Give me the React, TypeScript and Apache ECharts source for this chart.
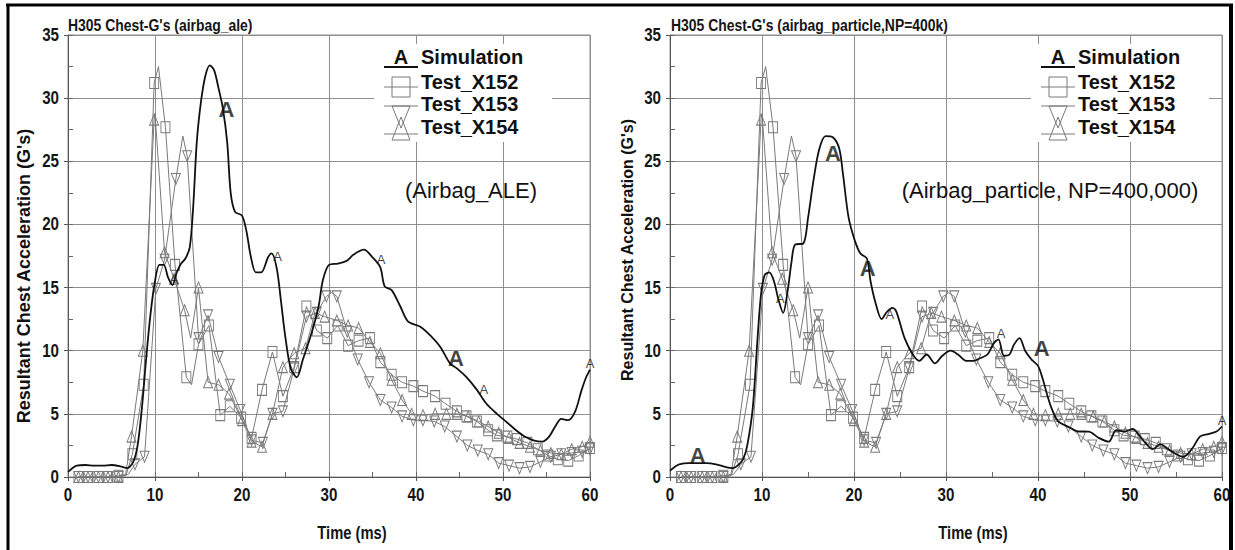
import React, { useEffect, useRef } from "react";
import * as echarts from "echarts";

// ---------------- data ----------------
const titleAle = "H305 Chest-G's (airbag_ale)";
const titleParticle = "H305 Chest-G's (airbag_particle,NP=400k)";
const noteAle = "(Airbag_ALE)";
const noteParticle = "(Airbag_particle, NP=400,000)";
const yName = "Resultant Chest Acceleration (G's)";
const xName = "Time (ms)";
const legendNames = ["Simulation", "Test_X152", "Test_X153", "Test_X154"];
const markText = "A";
const xTicks = [0, 10, 20, 30, 40, 50, 60];
const yTicks = [0, 5, 10, 15, 20, 25, 30, 35];

// Test_X152 (squares): marked samples, and unmarked samples at curve peaks
const x152Marks = [[1.2,0],[2.3,0],[3.5,0],[4.6,0],[5.8,0.1],[7.4,1.8],[8.7,7.3],[9.9,31.2],[11.2,27.7],[12.3,16.8],[13.6,7.9],[15.0,10.5],[16.2,12.0],[17.5,4.9],[18.6,5.6],[19.9,4.7],[21.1,3.1],[22.3,6.9],[23.5,9.9],[24.7,6.4],[26.0,8.7],[27.4,13.5],[28.6,11.6],[29.8,11.0],[31.0,12.0],[32.2,10.4],[33.4,10.8],[34.7,11.0],[35.9,9.1],[37.2,8.1],[38.4,7.5],[39.7,7.2],[40.8,6.8],[42.2,6.4],[43.4,5.8],[44.7,5.2],[45.8,4.8],[47.0,4.4],[48.3,3.7],[49.3,3.3],[50.5,3.2],[51.6,3.0],[52.8,2.7],[54.0,2.2],[55.2,1.7],[56.3,1.4],[57.5,1.3],[58.7,1.7],[60.0,2.3]];
const x152Peaks = [[6.7,0.2],[10.4,32.5],[14.2,7.3]];

// Test_X153 (down triangles)
const x153Marks = [[1.2,0],[2.3,0],[3.5,0],[4.6,0],[5.8,0],[7.7,1.0],[8.8,1.6],[10.1,14.9],[11.1,17.2],[12.4,23.6],[13.7,25.4],[15.0,11.0],[16.1,12.8],[17.3,9.5],[18.6,7.3],[19.8,5.3],[21.1,2.9],[22.4,2.7],[23.5,5.0],[24.7,5.2],[26.0,8.6],[27.4,12.7],[28.6,13.0],[29.7,14.3],[30.9,14.3],[32.1,11.5],[33.3,9.3],[34.6,7.5],[35.9,6.1],[37.2,5.5],[38.4,4.8],[39.7,4.5],[40.8,4.5],[42.1,4.4],[43.3,4.0],[44.7,3.2],[45.9,2.5],[47.1,2.1],[48.3,1.8],[49.5,1.1],[50.7,0.9],[51.9,0.7],[53.1,0.8],[54.3,1.2],[55.5,1.6],[56.7,1.8],[57.9,1.9],[59.1,2.0],[60.0,2.2]];
const x153Peaks = [[6.9,0.2],[13.2,27.0],[30.3,14.6]];

// Test_X154 (up triangles)
const x154Marks = [[1.2,0],[2.3,0],[3.5,0],[4.6,0],[5.8,0],[7.3,3.2],[8.6,10.0],[9.9,28.3],[11.1,17.8],[12.2,15.7],[13.4,13.2],[15.0,15.0],[16.1,7.5],[17.3,7.3],[18.5,6.6],[20.0,4.5],[21.1,2.8],[22.3,2.4],[23.5,5.0],[24.7,8.7],[26.0,9.8],[27.3,10.2],[28.4,13.0],[29.5,12.7],[30.9,12.4],[32.2,12.0],[33.4,11.8],[34.7,10.7],[35.9,9.8],[37.2,7.7],[38.4,6.1],[39.5,5.0],[40.8,4.9],[42.2,5.0],[43.5,5.0],[44.7,5.0],[46.0,4.8],[47.2,4.4],[48.3,4.0],[49.5,3.5],[50.7,3.1],[51.9,2.7],[53.1,2.4],[54.3,2.1],[55.5,1.9],[56.7,1.8],[57.9,2.2],[59.1,2.4],[60.0,2.8]];
const x154Peaks = [[6.6,0.1],[10.0,28.8],[14.1,11.0]];

// Simulation, airbag ALE
const simAle = [[0,0.4],[0.5,0.7],[1,0.9],[2,0.95],[3,0.9],[4,0.9],[5,0.95],[6,0.85],[6.8,0.7],[7.5,1.2],[8,2.5],[8.5,5.5],[9,9.5],[9.5,13],[10,15.5],[10.5,16.8],[11,16.8],[11.5,15.8],[12,15.2],[12.5,16.2],[13,16.9],[13.5,17.3],[14,18.2],[14.4,21.5],[14.8,26.5],[15.3,29.8],[15.8,31.8],[16.3,32.6],[16.8,32.2],[17.3,30.8],[17.8,29.2],[18.3,26.5],[18.7,22.5],[19.2,21],[20,20.7],[20.5,19.5],[21,17.5],[21.6,16.2],[22.2,16.2],[23,17.4],[23.4,17.7],[24,16.5],[24.5,13.8],[25,11],[25.6,8.6],[26.3,7.9],[27,9.3],[28,11.4],[28.8,13.5],[29.3,15.6],[30,16.8],[31,16.9],[32,17.1],[32.8,17.6],[34,18],[35,17.4],[35.9,16.6],[36.4,15.1],[37.2,14.8],[38.2,13.5],[39.1,12.3],[40.5,11.9],[41.8,11.1],[42.8,10.3],[43.9,9.0],[44.7,8.6],[45.8,7.9],[47,6.9],[48.1,5.8],[49.3,5.0],[50.5,4.3],[51.5,3.7],[52.5,3.2],[53.5,2.9],[54.5,2.8],[55.3,3.2],[56,4.0],[56.7,4.6],[57.5,4.5],[58.3,5.2],[59,6.8],[59.5,7.8],[60,8.5]];
const simAleBigA = [[18.2,29.1],[44.6,9.4]];
const simAleSmallA = [[12.2,15.6],[24.1,17.5],[36.0,17.2],[47.8,6.9],[60.0,9.0]];

// Simulation, airbag particle NP=400k
const simParticle = [[0,0.5],[0.5,0.8],[1,1.0],[2,1.1],[3,1.1],[4,1.1],[5,1.0],[6,0.8],[6.8,0.7],[7.5,1.0],[8,1.5],[8.4,2.5],[9,5.5],[9.5,10.8],[9.9,14.5],[10.3,16.0],[10.8,16.2],[11.3,15.5],[11.8,14.0],[12.3,13.0],[12.8,14.8],[13.2,17.0],[13.6,18.4],[14.5,18.5],[15,20.5],[15.6,23.5],[16.2,25.9],[16.9,27.0],[17.7,26.9],[18.4,26.0],[18.8,24.0],[19.4,20.6],[20.1,18.7],[20.7,17.7],[21.4,17.3],[21.8,15.5],[22.3,13.9],[23,12.5],[23.6,13.1],[24.2,13.4],[24.6,13.1],[25.5,11.0],[26.4,9.7],[27.1,9.2],[27.9,9.7],[28.8,9.0],[29.6,9.6],[30.5,10.0],[31.3,9.7],[32.2,9.2],[33,9.2],[33.7,9.4],[34.5,9.7],[35.2,10.6],[35.7,10.9],[36.3,9.6],[36.9,9.7],[37.4,10.5],[38,11.0],[38.6,10.0],[39.3,9.3],[40,8.8],[40.5,7.8],[41,6.5],[41.5,5.4],[42.2,4.4],[43.5,3.9],[44.4,3.6],[45.5,3.6],[46.6,3.1],[47.7,2.8],[48.5,3.7],[49.4,3.6],[50.3,3.8],[50.9,3.4],[51.8,2.6],[52.5,2.2],[53.3,2.6],[54,2.3],[54.8,1.9],[55.8,1.6],[56.8,2.3],[57.6,3.2],[58.5,3.4],[59.4,3.6],[60,4.0]];
const simParticleBigA = [[3.0,1.7],[17.7,25.6],[21.5,16.5],[40.4,10.2]];
const simParticleSmallA = [[12.0,14.1],[23.9,12.9],[36.0,11.4],[60.0,4.5]];

// ---------------- styling ----------------
const ARIAL = "'Liberation Sans', Arial, sans-serif";
const NARROW_SCALE = 0.82; // Arial Narrow look: bold Arial squeezed horizontally
const GRID_C = "#8f8f8f";
const TEST_C = "#7a7a7a";
const SIM_C = "#111111";

const panels = [
  { left: 68, width: 522, sim: simAle, big: simAleBigA, small: simAleSmallA, title: titleAle, note: noteAle,
    titleX: 68, yNameX: 24, yNameY: 276, yNameSize: 18, xNameX: 352, noteX: 471, legX: 401 },
  { left: 670, width: 552, sim: simParticle, big: simParticleBigA, small: simParticleSmallA, title: titleParticle, note: noteParticle,
    titleX: 671, yNameX: 627, yNameY: 250, yNameSize: 16, xNameX: 973, noteX: 1050, legX: 1058 },
];
const TOP = 35;
const HEIGHT = 442;

function testSeries(name: string, marks: number[][], peaks: number[][], symbol: string, rotate: number, idx: number) {
  const data = [
    ...marks.map((p) => ({ value: p })),
    ...peaks.map((p) => ({ value: p, symbol: "none" })),
  ].sort((a, b) => a.value[0] - b.value[0]);
  return {
    type: "line", name, xAxisIndex: idx, yAxisIndex: idx, data,
    symbol, symbolRotate: rotate, symbolSize: [9, 11], showAllSymbol: true,
    lineStyle: { color: TEST_C, width: 1 },
    itemStyle: { color: "rgba(255,255,255,0)", borderColor: TEST_C, borderWidth: 1 },
    z: 2, silent: true,
  };
}

function aMarks(points: number[][], size: number, weight: string, idx: number) {
  return {
    type: "scatter", xAxisIndex: idx, yAxisIndex: idx, data: points,
    symbolSize: 1, itemStyle: { color: "rgba(0,0,0,0)" },
    label: { show: true, position: "inside", formatter: markText, fontFamily: ARIAL, fontWeight: weight, fontSize: size, color: SIM_C },
    z: 4, silent: true,
  };
}

function narrowText(x: number, y: number, text: string, size: number, align: string, vAlign: string) {
  return { type: "text", x, y, scaleX: NARROW_SCALE, scaleY: 1,
    style: { text, fontFamily: ARIAL, fontWeight: "bold", fontSize: size, fill: "#151515", align, verticalAlign: vAlign }, z: 12 };
}

function legendGraphics(cx: number) {
  const x0 = cx - 17, x1 = cx + 17, tx = cx + 20;
  const rows = [57, 82, 104, 127];
  const g: any[] = [];
  g.push({ type: "rect", shape: { x: cx - 27, y: 44, width: 178, height: 98 }, style: { fill: "#fff" }, z: 10 });
  g.push({ type: "line", shape: { x1: x0, y1: 67, x2: x1, y2: 67 }, style: { stroke: SIM_C, lineWidth: 2 }, z: 11 });
  g.push({ type: "text", x: cx, y: rows[0], style: { text: markText, fontFamily: ARIAL, fontWeight: "bold", fontSize: 20, fill: SIM_C, align: "center", verticalAlign: "middle" }, z: 11 });
  g.push({ type: "line", shape: { x1: x0, y1: 87, x2: x1, y2: 87 }, style: { stroke: TEST_C, lineWidth: 1 }, z: 11 });
  g.push({ type: "rect", shape: { x: cx - 9, y: 77, width: 18, height: 20 }, style: { fill: "none", stroke: TEST_C, lineWidth: 1 }, z: 11 });
  g.push({ type: "line", shape: { x1: x0, y1: 106, x2: x1, y2: 106 }, style: { stroke: TEST_C, lineWidth: 1 }, z: 11 });
  g.push({ type: "polygon", shape: { points: [[cx - 9, 106], [cx + 9, 106], [cx, 128]] }, style: { fill: "none", stroke: TEST_C, lineWidth: 1 }, z: 11 });
  g.push({ type: "line", shape: { x1: x0, y1: 134, x2: x1, y2: 134 }, style: { stroke: TEST_C, lineWidth: 1 }, z: 11 });
  g.push({ type: "polygon", shape: { points: [[cx - 9, 140], [cx + 9, 140], [cx, 117]] }, style: { fill: "none", stroke: TEST_C, lineWidth: 1 }, z: 11 });
  legendNames.forEach((n, i) => {
    g.push({ type: "text", x: tx, y: rows[i], style: { text: n, fontFamily: ARIAL, fontWeight: "bold", fontSize: 20, fill: "#111", align: "left", verticalAlign: "middle" }, z: 12 });
  });
  return g;
}

export default function App() {
  const ref = useRef<HTMLDivElement>(null);
  useEffect(() => {
    if (!ref.current) return;
    const chart = echarts.init(ref.current, undefined, { renderer: "svg" });

    const grids = panels.map((p) => ({ left: p.left, top: TOP, width: p.width, height: HEIGHT, show: true, borderColor: GRID_C, borderWidth: 1, backgroundColor: "rgba(0,0,0,0)" }));
    const xAxes: any[] = [];
    const yAxes: any[] = [];
    panels.forEach((p, i) => {
      xAxes.push({ type: "value", gridIndex: i, position: "bottom", min: 0, max: 60, interval: 10,
        axisLine: { show: true, lineStyle: { color: "#555", width: 1 } },
        axisTick: { show: true, length: 4, lineStyle: { color: "#555" } },
        axisLabel: { show: false },
        splitLine: { show: true, lineStyle: { color: GRID_C, width: 1 } } });
      yAxes.push({ type: "value", gridIndex: i, position: "left", min: 0, max: 35, interval: 5,
        axisLine: { show: true, lineStyle: { color: "#555", width: 1 } },
        axisTick: { show: true, length: 4, lineStyle: { color: "#555" } },
        axisLabel: { show: false },
        splitLine: { show: true, lineStyle: { color: GRID_C, width: 1 } } });
    });
    panels.forEach((p, i) => {
      xAxes.push({ type: "value", gridIndex: i, position: "bottom", min: 0, max: 60, interval: 5,
        axisLine: { show: false }, axisTick: { show: true, inside: true, length: 5, lineStyle: { color: "#666" } },
        axisLabel: { show: false }, splitLine: { show: false } });
      yAxes.push({ type: "value", gridIndex: i, position: "left", min: 0, max: 35, interval: 2.5,
        axisLine: { show: false }, axisTick: { show: true, inside: true, length: 5, lineStyle: { color: "#666" } },
        axisLabel: { show: false }, splitLine: { show: false } });
    });

    const series: any[] = [];
    panels.forEach((p, i) => {
      series.push(testSeries("Test_X152", x152Marks, x152Peaks, "rect", 0, i));
      series.push(testSeries("Test_X153", x153Marks, x153Peaks, "triangle", 180, i));
      series.push(testSeries("Test_X154", x154Marks, x154Peaks, "triangle", 0, i));
      series.push({ type: "line", name: "Simulation", xAxisIndex: i, yAxisIndex: i, data: p.sim, symbol: "none", smooth: 0.3,
        lineStyle: { color: SIM_C, width: 1.8 }, z: 3, silent: true });
      series.push(aMarks(p.big, 22, "bold", i));
      series.push(aMarks(p.small, 13, "normal", i));
    });

    chart.setOption({
      animation: false,
      backgroundColor: "#fff",
      grid: grids,
      xAxis: xAxes,
      yAxis: yAxes,
      series,
    });

    const graphic: any[] = [];
    panels.forEach((p, i) => {
      // tick labels placed through the axes' own scales
      xTicks.forEach((v) => {
        const pt = chart.convertToPixel({ xAxisIndex: i, yAxisIndex: i }, [v, 0]) as number[];
        graphic.push(narrowText(pt[0], pt[1] + 8, String(v), 18.5, "center", "top"));
      });
      yTicks.forEach((v) => {
        const pt = chart.convertToPixel({ xAxisIndex: i, yAxisIndex: i }, [0, v]) as number[];
        graphic.push(narrowText(pt[0] - 9, pt[1], String(v), 18.5, "right", "middle"));
      });
      graphic.push(narrowText(p.titleX, 25, p.title, 17, "left", "middle"));
      graphic.push(narrowText(p.xNameX, 532, xName, 18, "center", "middle"));
      graphic.push({ type: "text", x: p.yNameX, y: p.yNameY, rotation: Math.PI / 2, style: { text: yName, fontFamily: ARIAL, fontWeight: "bold", fontSize: p.yNameSize, fill: "#111", align: "center", verticalAlign: "middle" }, z: 12 });
      graphic.push({ type: "text", x: p.noteX, y: 190, style: { text: p.note, fontFamily: ARIAL, fontSize: 22, fill: "#111", align: "center", verticalAlign: "middle" }, z: 12 });
      graphic.push(...legendGraphics(p.legX));
    });
    // outer frame
    graphic.push({ type: "line", shape: { x1: 6, y1: 5, x2: 1233, y2: 5 }, style: { stroke: "#000", lineWidth: 3 }, z: 20 });
    graphic.push({ type: "line", shape: { x1: 8, y1: 4, x2: 8, y2: 550 }, style: { stroke: "#000", lineWidth: 3 }, z: 20 });
    graphic.push({ type: "line", shape: { x1: 1231, y1: 4, x2: 1231, y2: 550 }, style: { stroke: "#000", lineWidth: 4 }, z: 20 });

    chart.setOption({ graphic });
    return () => chart.dispose();
  }, []);
  return <div ref={ref} style={{ position: "fixed", left: 0, top: 0, width: 1235, height: 550 }} />;
}
